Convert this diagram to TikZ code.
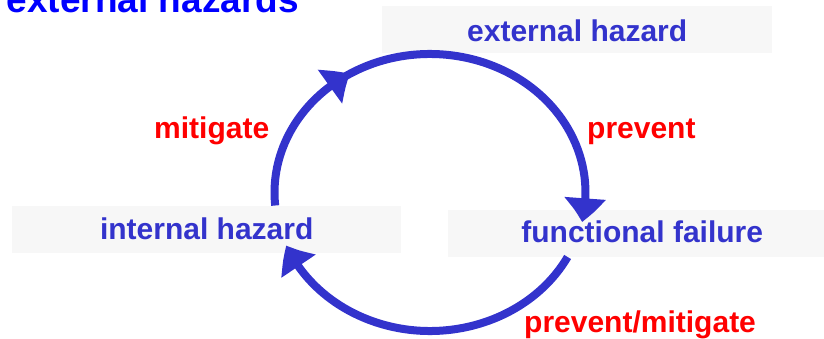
\documentclass[tikz,border=0pt]{standalone}
\usepackage{fontspec}
\setmainfont{Liberation Sans}
\usetikzlibrary{arrows.meta,bending}
\definecolor{arcblue}{RGB}{51,51,204}
\definecolor{boxgray}{RGB}{247,247,247}
\definecolor{labred}{RGB}{255,0,0}
\definecolor{titleblue}{RGB}{0,0,255}
\begin{document}
\begin{tikzpicture}[x=1pt,y=1pt,
  hazbox/.style={fill=boxgray, draw=none, inner sep=0pt, anchor=south west,
    text=arcblue, font=\fontsize{30}{36}\selectfont\bfseries, text depth=0pt,
    minimum height=47pt},
  actlabel/.style={text=labred, font=\fontsize{30}{36}\selectfont\bfseries,
    inner sep=0pt, anchor=base west},
  cyclearc/.style={draw=arcblue, line width=8pt,
    -{Triangle[length=24pt,width=40pt,bend]}}]
\useasboundingbox (0,0) rectangle (824,339);
\clip (0,0) rectangle (824,339);
% title
\node[text=titleblue, font=\fontsize{37}{44}\selectfont\bfseries, inner sep=0pt,
  anchor=base west] (title) at (6.5,326.5) {external hazards};
% boxes
\node[hazbox, minimum width=390pt, text height=25pt] (ext) at (382,286) {external hazard};
\node[hazbox, minimum width=389pt, text height=21pt] (int) at (12,86) {internal hazard};
\node[hazbox, minimum width=388pt, text height=19pt] (func) at (448,82) {functional failure};
% cycle arcs
\coordinate (c) at (430,146.5);
\coordinate (inttop) at ([shift={(c)}]185.4:155.5 and 138.5);
\coordinate (midpt) at ([shift={(c)}]125:155.5 and 138.5);
\coordinate (funcbot) at ([shift={(c)}]-27.75:155.5 and 138.5);
\draw[cyclearc] (inttop) arc[start angle=185.4, end angle=121, x radius=155.5, y radius=138.5];
\draw[cyclearc] (midpt) arc[start angle=125, end angle=-12.3, x radius=155.5, y radius=138.5];
\draw[cyclearc] (funcbot) arc[start angle=-27.75, end angle=-157.5, x radius=155.5, y radius=138.5];
% labels
\node[actlabel] (mit) at (154,200.5) {mitigate};
\node[actlabel] (prev) at (587,200.7) {prevent};
\node[actlabel] (prevmit) at (524,6) {prevent/mitigate};
\end{tikzpicture}
\end{document}
